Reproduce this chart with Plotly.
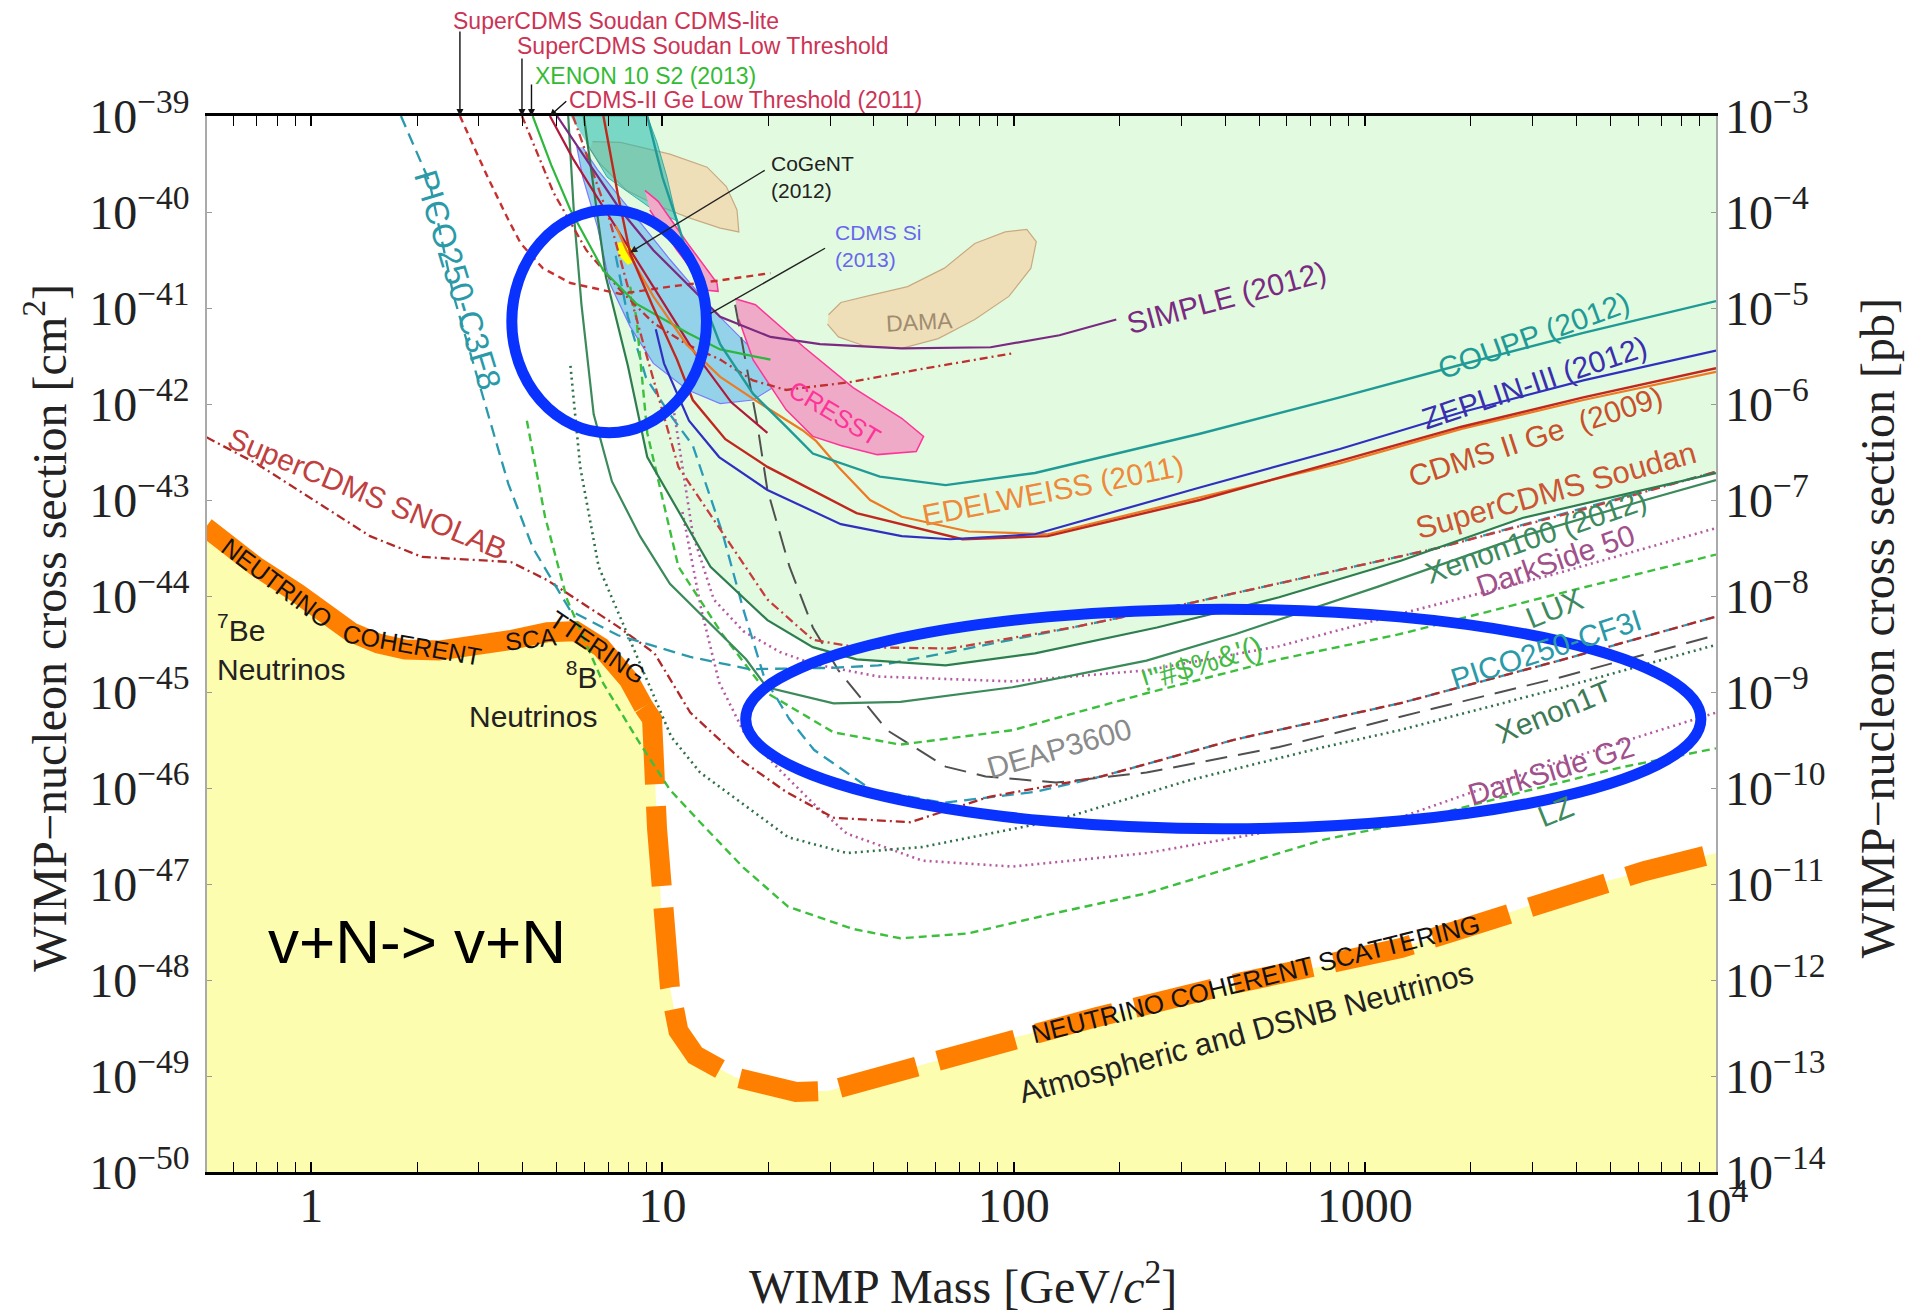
import plotly.graph_objects as go

# ---------------- data (mass in GeV/c^2, cross section in cm^2) ----------------
# neutrino coherent scattering floor
nu_mass_solid = [0.5, 0.572, 0.698, 0.916, 1.127, 1.30, 1.55, 1.85, 2.31, 2.96, 3.73, 4.70, 5.65, 6.68, 8.03, 8.84]
nu_sig_solid = [5.2e-44, 3.5e-44, 2.02e-44, 1.06e-44, 5.9e-45, 4.2e-45, 3.2e-45, 2.77e-45, 2.7e-45, 2.93e-45,
                3.5e-45, 4.2e-45, 4.3e-45, 2.93e-45, 1.33e-45, 7.0e-46]
nu_mass_dash = [8.84, 9.34, 9.65, 9.96, 10.5, 11.1, 12.4, 16.1, 24.0, 29.7, 40.9, 61.0, 98.4, 172, 382, 849,
                1266, 1886, 2812, 4190, 6245, 10000]
nu_sig_dash = [7.0e-46, 5.2e-46, 3.77e-47, 4.1e-48, 8.4e-49, 2.95e-49, 1.64e-49, 9.7e-50, 6.8e-50, 7.0e-50, 9.7e-50,
               1.46e-49, 2.47e-49, 4.1e-49, 8.4e-49, 1.51e-48, 2.15e-48, 3.4e-48, 5.6e-48, 9.3e-48, 1.36e-47, 2.1e-47]

# current limits (solid)
coupp_m = [9.05, 10.0, 11.0, 12.3, 14.6, 18.1, 22.5, 26.8, 41.6, 64.0, 115, 339, 849, 1886, 4190, 10000]
coupp_s = [1.0e-39, 2.3e-40, 8.1e-41, 2.11e-41, 4.2e-42, 1.28e-42, 5.8e-43, 3.05e-43, 1.75e-43, 1.43e-43, 1.91e-43,
           4.9e-43, 1.17e-42, 2.58e-42, 5.5e-42, 1.18e-41]
zeplin_m = [9.57, 10.1, 11.9, 14.5, 19.9, 32.2, 48.0, 66.0, 115, 339, 849, 1886, 4190, 10000]
zeplin_s = [6.0e-42, 2.65e-42, 6.7e-43, 2.8e-43, 1.27e-43, 5.6e-44, 4.2e-44, 3.9e-44, 4.4e-44, 1.35e-43, 3.4e-43,
            8.2e-43, 1.76e-42, 3.6e-42]
cdmsge_m = [6.79, 7.47, 8.09, 9.34, 11.0, 12.2, 15.1, 19.9, 35.7, 71.5, 125, 339, 849, 1886, 4190, 10000]
cdmsge_s = [1.0e-39, 1.5e-40, 3.7e-41, 1.08e-41, 2.9e-42, 1.10e-42, 4.3e-43, 2.21e-43, 7.3e-44, 3.9e-44, 4.2e-44,
            1.0e-43, 2.56e-43, 5.8e-43, 1.17e-42, 2.36e-42]
edel_m = [7.36, 7.90, 9.42, 11.7, 14.6, 19.0, 25.1, 27.4, 31.7, 39.0, 48.0, 74.4, 125, 339, 849, 1886, 4190, 10000]
edel_s = [7.2e-41, 4.0e-41, 1.32e-41, 4.2e-42, 1.92e-42, 1.01e-42, 5.3e-43, 4.1e-43, 2.21e-43, 1.0e-43, 6.7e-44,
          4.7e-44, 4.4e-44, 1.07e-43, 2.4e-43, 5.5e-43, 1.10e-42, 2.16e-42]
simple_m = [5.01, 6.07, 7.59, 9.42, 11.7, 14.6, 20.3, 28.1, 48.0, 86.0, 135, 196]
simple_s = [1.0e-39, 3.5e-40, 1.05e-40, 4.0e-41, 1.82e-41, 8.1e-42, 5.0e-42, 4.2e-42, 3.8e-42, 3.9e-42, 5.2e-42, 7.6e-42]
xe10s2_m = [4.27, 4.82, 5.47, 6.79, 8.42, 11.8, 14.6, 20.3]
xe10s2_s = [1.0e-39, 3.1e-40, 1.05e-40, 2.45e-41, 1.11e-41, 5.5e-42, 3.7e-42, 2.9e-42]
cdmslt_m = [4.78, 5.56, 6.79, 8.29, 10.1, 12.4, 15.7, 19.9]
cdmslt_s = [1.0e-39, 3.6e-40, 1.12e-40, 3.5e-41, 1.08e-41, 3.35e-42, 1.04e-42, 5.0e-43]
xe100_m = [5.97, 6.42, 6.90, 7.97, 9.05, 13.7, 19.9, 26.8, 35.7, 64.0, 115, 256, 570, 1266, 2812, 10000]
xe100_s = [1.0e-39, 1.5e-40, 2.11e-41, 2.5e-42, 2.8e-43, 2.02e-44, 5.6e-45, 2.93e-45, 2.19e-45, 1.89e-45, 2.53e-45,
           4.7e-45, 9.7e-45, 2.33e-44, 6.5e-44, 1.91e-43]
lux13_m = [5.39, 5.61, 5.88, 6.37, 7.18, 8.63, 10.5, 17.3, 19.8, 30.7, 47.6, 99.2, 239, 427, 1096, 2812, 6294, 10000]
lux13_s = [1.0e-39, 8.3e-41, 1.08e-41, 7.8e-43, 1.56e-43, 4.2e-44, 1.34e-44, 2.19e-45, 1.12e-45, 7.6e-46, 7.9e-46,
           1.12e-45, 2.12e-45, 4.0e-45, 1.26e-44, 4.2e-44, 1.0e-43, 1.61e-43]

# low-threshold results (top-left)
cdmslite_m = [2.65, 3.18, 3.64, 3.95, 4.56, 5.47, 7.59, 10.5, 14.6, 20.3]
cdmslite_s = [1.0e-39, 2.3e-40, 8.3e-41, 4.7e-41, 2.6e-41, 1.82e-41, 1.40e-41, 1.67e-41, 1.94e-41, 2.31e-41]
soudanlt_m = [3.98, 4.90, 6.07, 7.59, 9.42, 11.7, 14.6, 18.1, 22.5, 34.9, 56.3, 98.4]
soudanlt_s = [1.0e-39, 1.58e-40, 4.0e-41, 1.53e-41, 7.0e-42, 4.2e-42, 2.9e-42, 1.76e-42, 1.40e-42, 1.71e-42,
              2.36e-42, 3.35e-42]

# projections
snolab_m = [0.503, 0.698, 0.916, 1.47, 2.07, 3.70, 4.70, 7.47, 9.49, 12.0, 17.0, 22.5, 30.7, 50.7, 85.2, 178, 427,
            1255, 3572, 10000]
snolab_s = [4.5e-43, 2.4e-43, 1.27e-43, 4.2e-44, 2.55e-44, 2.26e-44, 1.46e-44, 4.8e-45, 2.53e-45, 6.1e-46, 1.88e-46,
            9.1e-47, 4.9e-47, 4.4e-47, 8.1e-47, 1.32e-46, 3.2e-46, 7.6e-46, 2.12e-45, 6.1e-45]
soudan_m = [5.56, 7.07, 8.98, 11.1, 14.8, 19.9, 26.8, 35.7, 66.0, 147, 326, 724, 1634, 4190, 10000]
soudan_s = [1.0e-39, 8.3e-41, 3.35e-42, 2.21e-43, 4.6e-44, 9.2e-45, 3.5e-45, 2.93e-45, 2.84e-45, 4.7e-45, 8.6e-45,
            1.64e-44, 3.2e-44, 8.0e-44, 1.97e-43]
picoc3f8_m = [1.80, 2.17, 2.54, 3.11, 3.64, 4.27, 5.47, 7.47, 12.0, 17.7, 29.7, 41.2, 66.0, 147, 326, 1634, 10000]
picoc3f8_s = [1.0e-39, 2.07e-40, 1.36e-41, 1.10e-42, 1.47e-43, 3.2e-44, 7.0e-45, 3.9e-45, 2.32e-45, 1.73e-45, 1.78e-45,
              1.89e-45, 2.61e-45, 4.7e-45, 8.6e-45, 3.2e-44, 1.97e-43]
ds50_m = [10.8, 12.2, 14.0, 17.0, 21.6, 27.0, 41.2, 99.2, 239, 570, 1096, 3572, 10000]
ds50_s = [8.0e-43, 4.4e-44, 9.2e-45, 4.3e-45, 2.61e-45, 1.95e-45, 1.45e-45, 1.29e-45, 1.68e-45, 3.0e-45, 5.7e-45,
          1.74e-44, 5.1e-44]
luxp_m = [8.09, 8.42, 9.05, 11.1, 14.8, 19.9, 30.7, 47.6, 99.2, 239, 570, 1255, 3572, 10000]
luxp_s = [1.67e-41, 8.1e-42, 5.0e-43, 2.02e-44, 4.0e-45, 9.7e-46, 3.8e-46, 2.83e-46, 4.0e-46, 9.7e-46, 2.19e-45,
          4.0e-45, 1.06e-44, 2.7e-44]
picocf3i_m = [7.36, 7.97, 8.98, 10.5, 12.2, 14.8, 17.0, 19.5, 23.0, 27.0, 39.3, 63.0, 115, 178, 427, 1255, 3572, 10000]
picocf3i_s = [3.5e-41, 8.1e-42, 1.87e-42, 7.8e-43, 3.7e-43, 4.6e-44, 7.2e-45, 1.41e-45, 5.2e-46, 2.5e-46, 9.6e-47,
              7.0e-47, 9.1e-47, 1.32e-46, 3.2e-46, 7.6e-46, 2.12e-45, 6.1e-45]
deap_m = [16.1, 18.6, 19.9, 23.0, 26.8, 31.7, 43.6, 64.0, 83.2, 132, 239, 570, 1255, 3572, 10000]
deap_s = [1.08e-41, 6.3e-43, 1.27e-43, 2.02e-44, 4.7e-45, 1.68e-45, 4.0e-46, 1.67e-46, 1.32e-46, 1.14e-46, 1.45e-46,
          2.67e-46, 5.5e-46, 1.41e-45, 3.9e-45]
xe1t_m = [5.47, 5.83, 6.58, 8.29, 10.6, 12.8, 22.8, 33.5, 55.0, 132, 318, 766, 1255, 3572, 10000]
xe1t_s = [2.5e-42, 2.21e-43, 2.02e-44, 2.77e-45, 3.4e-46, 1.45e-46, 3.07e-47, 2.1e-47, 2.43e-47, 4.6e-47, 1.21e-46,
          2.67e-46, 4.0e-46, 1.09e-45, 3.1e-45]
dsg2_m = [11.4, 12.9, 14.5, 17.0, 21.6, 27.0, 33.5, 55.0, 99.2, 239, 570, 1255, 3572, 10000]
dsg2_s = [7.5e-44, 7.2e-45, 1.26e-45, 3.9e-46, 1.53e-46, 6.8e-47, 3.35e-47, 1.75e-47, 1.52e-47, 2.1e-47, 3.66e-47,
          4.9e-47, 1.88e-46, 6.1e-46]
lz_m = [4.11, 4.63, 5.35, 6.79, 8.63, 10.5, 12.8, 17.0, 22.8, 34.9, 47.6, 73.9, 132, 239, 427, 766, 1255, 2812,
        5323, 10000]
lz_s = [6.7e-43, 6.7e-44, 9.2e-45, 1.22e-45, 2.9e-46, 9.6e-47, 4.4e-47, 1.48e-47, 5.8e-48, 3.4e-48, 2.72e-48,
        3.05e-48, 5.0e-48, 8.0e-48, 1.52e-47, 2.9e-47, 4.2e-47, 9.1e-47, 1.63e-46, 2.59e-46]

# signal / allowed regions
tan_m = [6.32, 7.59, 10.5, 13.4, 15.2, 16.3, 16.5, 14.6, 11.8, 9.42, 7.90, 6.63, 6.22]
tan_s = [5.4e-40, 5.3e-40, 4.0e-40, 2.93e-40, 1.84e-40, 1.05e-40, 6.2e-41, 6.8e-41, 8.8e-41, 1.22e-40, 1.68e-40,
         3.2e-40, 4.5e-40]
dama_m = [29.7, 32.2, 39.3, 49.9, 63.5, 77.5, 94.6, 109, 116, 112, 96.9, 77.5, 61.0, 48.0, 37.8, 31.7, 29.5]
dama_s = [8.5e-42, 1.14e-41, 1.36e-41, 1.67e-41, 2.6e-41, 4.7e-41, 6.2e-41, 6.6e-41, 4.9e-41, 2.6e-41, 1.32e-41,
          7.6e-42, 4.8e-42, 3.8e-42, 4.0e-42, 5.0e-42, 6.8e-42]
teal_m = [5.47, 9.05, 9.65, 10.3, 11.0, 9.42, 6.96, 6.07]
teal_s = [1.0e-39, 1.0e-39, 5.3e-40, 2.3e-40, 8.1e-41, 1.05e-40, 2.3e-40, 5.3e-40]
cdmssi_m = [5.70, 5.93, 6.53, 7.07, 8.09, 9.42, 11.8, 14.6, 18.1, 20.6, 20.3, 17.4, 13.9, 10.5, 8.09, 6.53, 5.93]
cdmssi_s = [4.8e-40, 2.3e-40, 7.0e-41, 1.82e-41, 6.4e-42, 2.65e-42, 1.40e-42, 1.01e-42, 1.10e-42, 1.48e-42, 2.65e-42,
            4.2e-42, 9.6e-42, 3.2e-41, 1.05e-40, 2.77e-40, 4.7e-40]
cresst1_m = [8.91, 9.72, 11.8, 14.3, 14.4, 13.4, 11.0, 9.20]
cresst1_s = [1.68e-40, 1.29e-40, 4.7e-41, 1.82e-41, 1.49e-41, 1.53e-41, 4.0e-41, 1.05e-40]
cresst2_m = [16.1, 18.4, 25.3, 34.9, 48.0, 55.4, 52.8, 40.9, 32.2, 26.8, 22.5, 18.1, 16.5]
cresst2_s = [1.25e-41, 1.08e-41, 3.9e-42, 1.48e-42, 7.1e-43, 4.6e-43, 3.2e-43, 2.97e-43, 3.7e-43, 4.6e-43, 8.7e-43,
             2.9e-42, 7.6e-42]
cogent_m = [7.36, 7.78, 8.29, 8.36, 7.97, 7.53]
cogent_s = [4.7e-41, 4.9e-41, 4.0e-41, 3.1e-41, 2.83e-41, 3.5e-41]

# axis ticks
x_ticks = [1, 10, 100, 1000, 10000]
x_ticktext = ["1", "10", "100", "1000", "10<sup>4</sup>"]
x_minor = [0.6, 0.7, 0.8, 0.9] + [k * 10 ** e for e in range(0, 4) for k in range(2, 10)]
y_exps = list(range(-39, -51, -1))
y2_exps = list(range(-3, -15, -1))

# ---------------- figure ----------------
fig = go.Figure()


def region(m, s, fill, line_color=None, line_width=0):
    fig.add_trace(go.Scatter(x=m, y=s, mode="lines", fill="toself", fillcolor=fill,
                             line=dict(color=line_color or fill, width=line_width),
                             hoverinfo="skip", showlegend=False))


def curve(m, s, color, width=2.3, dash="solid"):
    fig.add_trace(go.Scatter(x=m, y=s, mode="lines", line=dict(color=color, width=width, dash=dash),
                             hoverinfo="skip", showlegend=False))


# excluded (green) region above the Xenon100 limit
region(xe100_m + [10000, 10000, 5.97], xe100_s + [1.91e-43, 2e-39, 2e-39], "#e2fbe0")
# neutrino floor region
region(nu_mass_solid + nu_mass_dash[1:] + [10000, 0.5], nu_sig_solid + nu_sig_dash[1:] + [1e-51, 1e-51], "#fdfdb0")
# signal regions
region(tan_m, tan_s, "#efdfb8", "#c9aa80", 1.2)
region(dama_m, dama_s, "#efdfb8", "#c9aa80", 1.2)
region(teal_m, teal_s, "rgba(32,185,175,0.55)", "rgba(32,160,160,0.8)", 1)
region(cdmssi_m, cdmssi_s, "rgba(140,205,235,0.9)", "#7a7aff", 1.2)
region(cresst1_m, cresst1_s, "#eeaac6", "#ff3399", 1.5)
region(cresst2_m, cresst2_s, "#eeaac6", "#ff3399", 1.5)
region(cogent_m, cogent_s, "#ffff00", "#ffee00", 0.5)

# neutrino floor line
curve(nu_mass_solid, nu_sig_solid, "#ff8000", 20)
curve(nu_mass_dash, nu_sig_dash, "#ff8000", 20, "80px,22px")

# projections
curve(lz_m, lz_s, "#3cbf3c", 2.4, "8px,5px")
curve(dsg2_m, dsg2_s, "#b35aa2", 2.6, "2px,4px")
curve(xe1t_m, xe1t_s, "#2f7048", 2.6, "2px,4px")
curve(deap_m, deap_s, "#505050", 2.0, "22px,11px")
curve(picocf3i_m, picocf3i_s, "#2a9ab8", 2.3, "12px,7px")
curve(snolab_m, snolab_s, "#b02828", 2.3, "9px,4px,2px,4px")
curve(luxp_m, luxp_s, "#3cbf3c", 2.4, "8px,5px")
curve(ds50_m, ds50_s, "#b35aa2", 2.6, "2px,4px")
curve(picoc3f8_m, picoc3f8_s, "#2a9aaa", 2.3, "12px,7px")
curve(soudan_m, soudan_s, "#c83c3c", 2.3, "9px,4px,2px,4px")

# current limits
curve(lux13_m, lux13_s, "#3a8a5a", 2.2)
curve(xe100_m, xe100_s, "#2e7d4f", 2.2)
curve(cdmslite_m, cdmslite_s, "#c83030", 2.4, "7px,5px")
curve(soudanlt_m, soudanlt_s, "#c03030", 2.3, "8px,4px,2px,4px")
curve(cdmslt_m, cdmslt_s, "#b01a3a", 2.2)
curve(xe10s2_m, xe10s2_s, "#2db83d", 2.2)
curve(simple_m, simple_s, "#7b2a82", 2.2)
curve(edel_m, edel_s, "#ee7a22", 2.2)
curve(cdmsge_m, cdmsge_s, "#c0281e", 2.4)
curve(zeplin_m, zeplin_s, "#3030c0", 2.2)
curve(coupp_m, coupp_s, "#1f9a96", 2.4)

# invisible carrier so the right-hand (pb) axis is drawn
fig.add_trace(go.Scatter(x=x_ticks[:2], y=[10.0 ** y2_exps[-1], 10.0 ** y2_exps[0]], yaxis="y2",
                         mode="lines", line=dict(width=0, color="rgba(0,0,0,0)"),
                         hoverinfo="skip", showlegend=False))

# ---------------- annotations ----------------
ann = []
SANS = "Liberation Sans"
SERIF = "Liberation Serif"


def lab(text, x, y, angle=0, color="#222", size=30, xanchor="center", align="center"):
    ann.append(dict(text=text, x=x, y=y, xref="x", yref="y", showarrow=False, textangle=angle,
                    font=dict(family=SANS, size=size, color=color), xanchor=xanchor, yanchor="middle",
                    align=align))


lab("SIMPLE (2012)", 2.607, -40.891, -15, "#7b2a82")
lab("COUPP (2012)", 3.480, -41.284, -20, "#1f9a96")
lab("ZEPLIN-III (2012)", 3.484, -41.779, -18.5, "#3b2fb0")
lab("CDMS II Ge  (2009)", 3.487, -42.338, -18, "#c8502a")
lab("EDELWEISS (2011)", 2.111, -42.896, -11, "#ee8a3a")
lab("SuperCDMS Soudan", 3.543, -42.896, -15.5, "#cc5533", 31)
lab("Xenon100 (2012)", 3.487, -43.378, -19, "#3d8a5e")
lab("DarkSide 50", 3.543, -43.632, -19, "#a0508a")
lab("LUX", 3.539, -44.127, -22, "#3d8a5e")
lab("PICO250-CF3I", 3.515, -44.558, -18, "#2a9aa8")
lab("Xenon1T", 3.539, -45.206, -22, "#3d7a55")
lab("DarkSide G2", 3.529, -45.815, -17, "#a0508a")
lab("LZ", 3.543, -46.246, -22, "#3d8a5e")
lab("!\"#$%&amp;'()", 2.534, -44.698, -17, "#44bb44")
lab("DEAP3600", 2.128, -45.586, -16, "#8a8a8a")
lab("CRESST", 1.490, -42.096, 31, "#ff3399", 25)
lab("DAMA", 1.733, -41.145, -3, "#a08c70", 23)
lab("CoGeNT<br>(2012)", 1.303, -39.635, 0, "#222", 21, "left", "left")
lab("CDMS Si<br>(2013)", 1.485, -40.358, 0, "#6666ee", 21, "left", "left")
lab("PICO250-C3F8", 0.418, -40.70, 73, "#2a9aa8", 33)
lab("SuperCDMS SNOLAB", 0.159, -42.934, 22.5, "#c04040", 30)
lab("<sup>7</sup>Be<br>Neutrinos", -0.274, -44.533, 0, "#222", 30, "left", "left")
lab("<sup>8</sup>B<br>Neutrinos", 0.818, -45.03, 0, "#222", 30, "right", "right")
lab("NEUTRINO", -0.097, -43.86, 37, "#111", 25)
lab("COHERENT", 0.288, -44.508, 10, "#111", 25)
lab("SCA", 0.625, -44.45, -6, "#111", 25)
lab("TTERING", 0.815, -44.53, 34, "#111", 25)
lab("NEUTRINO COHERENT SCATTERING", 2.690, -47.985, -14, "#111", 26)
lab("Atmospheric and DSNB Neutrinos", 2.662, -48.55, -15, "#222", 31)
lab("v+N-> v+N", 0.3016, -47.604, 0, "#000", 62)

# pointers
ann.append(dict(x=0.9081, y=-40.421, xref="x", yref="y", ax=136, ay=-83, text="", showarrow=True,
                arrowhead=2, arrowsize=1, arrowwidth=1.4, arrowcolor="#222"))
ann.append(dict(x=1.1369, y=-41.056, xref="x", yref="y", ax=116, ay=-66, text="", showarrow=True,
                arrowhead=0, arrowwidth=1.4, arrowcolor="#222"))
# top labels and their arrows
top_labels = [("SuperCDMS Soudan CDMS-lite", 0.1617, 1.0902, "#cc3355"),
              ("SuperCDMS Soudan Low Threshold", 0.2044, 1.066, "#cc3355"),
              ("XENON 10 S2 (2013)", 0.2158, 1.0383, "#33bb33"),
              ("CDMS-II Ge Low Threshold (2011)", 0.2384, 1.0152, "#cc3355")]
for t, px, py, c in top_labels:
    ann.append(dict(text=t, x=px, y=py, xref="paper", yref="paper", showarrow=False, xanchor="left",
                    yanchor="middle", font=dict(family=SANS, size=23, color=c)))
for xv, axv, ayv in [(0.4232, 0, -86), (0.5999, 0, -59), (0.627, 0, -33), (0.679, 18, -16)]:
    ann.append(dict(x=xv, y=-39, xref="x", yref="y", ax=axv, ay=ayv, text="", showarrow=True,
                    arrowhead=2, arrowsize=1, arrowwidth=1.4, arrowcolor="#111"))

# axis titles
ann.append(dict(text="WIMP\u2212nucleon cross section [cm<sup>2</sup>]", x=-0.107, y=0.515, xref="paper",
                yref="paper", showarrow=False, textangle=-90, xanchor="center", yanchor="middle",
                font=dict(family=SERIF, size=48, color="#222")))
ann.append(dict(text="WIMP\u2212nucleon cross section [pb]", x=1.1067, y=0.515, xref="paper", yref="paper",
                showarrow=False, textangle=-90, xanchor="center", yanchor="middle",
                font=dict(family=SERIF, size=48, color="#222")))
ann.append(dict(text="WIMP Mass [GeV/<i>c</i><sup>2</sup>]", x=0.501, y=-0.105, xref="paper", yref="paper",
                showarrow=False, xanchor="center", yanchor="middle",
                font=dict(family=SERIF, size=48, color="#222")))

# highlight ellipses
shapes = [
    dict(type="circle", xref="paper", yref="paper", x0=0.202, x1=0.331, y0=0.700, y1=0.911,
         line=dict(color="#0a32ff", width=11)),
    dict(type="circle", xref="paper", yref="paper", x0=0.357, x1=0.990, y0=0.325, y1=0.533,
         line=dict(color="#0a32ff", width=11)),
]

tickfont = dict(family=SERIF, size=48, color="#222")
fig.update_layout(
    width=1911, height=1313, autosize=False,
    margin=dict(l=207, r=195, t=116, b=141),
    paper_bgcolor="white", plot_bgcolor="white", showlegend=False,
    annotations=ann, shapes=shapes,
    xaxis=dict(type="log", range=[-0.297, 4.0], tickvals=x_ticks, ticktext=x_ticktext,
               ticks="inside", ticklen=10, tickwidth=1.5, tickcolor="black",
               showline=True, linecolor="black", linewidth=2.5, mirror="allticks",
               showgrid=False, zeroline=False, tickfont=tickfont, automargin=False,
               ticklabelstandoff=-10,
               minor=dict(tickvals=x_minor, ticks="inside", ticklen=6, tickwidth=1.2, tickcolor="black",
                          showgrid=False)),
    yaxis=dict(type="log", range=[-50, -39], tickvals=[10.0 ** e for e in y_exps],
               ticktext=["10<sup>\u2212%d</sup>" % (-e) for e in y_exps],
               ticks="inside", ticklen=5, tickcolor="#999", showline=True, linecolor="#aaaaaa",
               linewidth=1.5, mirror=True, showgrid=False, zeroline=False, tickfont=tickfont,
               ticklabelstandoff=6, automargin=False),
    yaxis2=dict(type="log", range=[-14, -3], overlaying="y", side="right", anchor="x",
                tickvals=[10.0 ** e for e in y2_exps],
                ticktext=["10<sup>\u2212%d</sup>" % (-e) for e in y2_exps],
                ticks="inside", ticklen=5, tickcolor="#999", showline=False, showgrid=False,
                zeroline=False, tickfont=tickfont, ticklabelstandoff=8, automargin=False),
)

fig.write_html("out.html")
